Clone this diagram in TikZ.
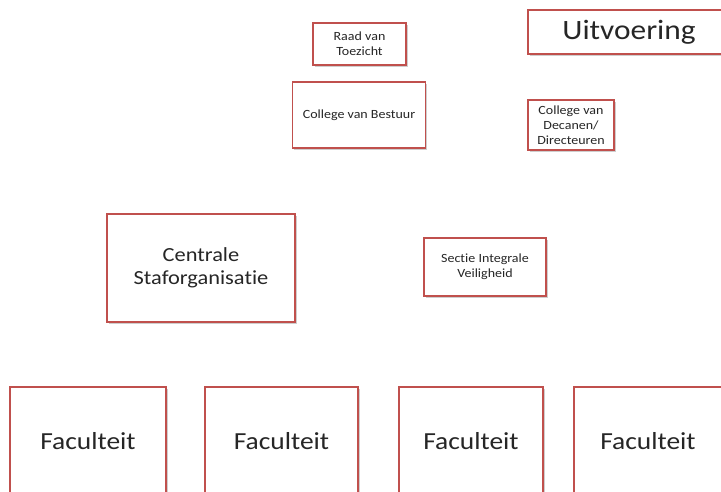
\documentclass[tikz,border=0pt]{standalone}
\usepackage{fontspec}
\setmainfont{Carlito}[FakeStretch=1.12, RawFeature={-liga}]
\usetikzlibrary{shadows}
\definecolor{boxred}{HTML}{C0504D}
\definecolor{txt}{HTML}{262626}
\begin{document}
\begin{tikzpicture}[x=1pt,y=-1pt,
  box/.style={draw=boxred, line width=1.3pt, fill=white, inner sep=0pt,
    align=center, text=txt,
    drop shadow={shadow xshift=1.6pt, shadow yshift=-1.6pt, opacity=0.35, fill=black!55}},
  small/.style={font=\fontsize{12.5}{15}\selectfont},
  medium/.style={font=\fontsize{20}{23.5}\selectfont},
  large/.style={font=\fontsize{28}{33}\selectfont},
  huge/.style={font=\fontsize{24.5}{29}\selectfont}]
\useasboundingbox (0,0) rectangle (721,492);
\clip (0,0) rectangle (721,492);

% governance
\node[box, small, minimum width=93pt, minimum height=42pt] (raad) at (359.5,44) {Raad van\\Toezicht};
\node[box, large, minimum width=202pt, minimum height=44pt] (uitv) at (629,32) {Uitvoering};
\node[box, small, minimum width=133pt, minimum height=66pt] (cvb) at (359,115) {College van Bestuur};
\node[box, small, minimum width=86pt, minimum height=50pt] (cvd) at (571,125) {College van\\Decanen/\\Directeuren};

% staff units
\node[box, medium, minimum width=188pt, minimum height=108pt] (cso) at (201,268) {Centrale\\Staforganisatie};
\node[box, small, minimum width=122pt, minimum height=58pt] (siv) at (485,267) {Sectie Integrale\\Veiligheid};

% faculties
\node[box, huge, minimum width=156pt, minimum height=109pt] (fac1) at (88,441.5) {Faculteit};
\node[box, huge, minimum width=153pt, minimum height=109pt] (fac2) at (281.5,441.5) {Faculteit};
\node[box, huge, minimum width=144pt, minimum height=109pt] (fac3) at (471,441.5) {Faculteit};
\node[box, huge, minimum width=148pt, minimum height=109pt] (fac4) at (648,441.5) {Faculteit};
\end{tikzpicture}
\end{document}
